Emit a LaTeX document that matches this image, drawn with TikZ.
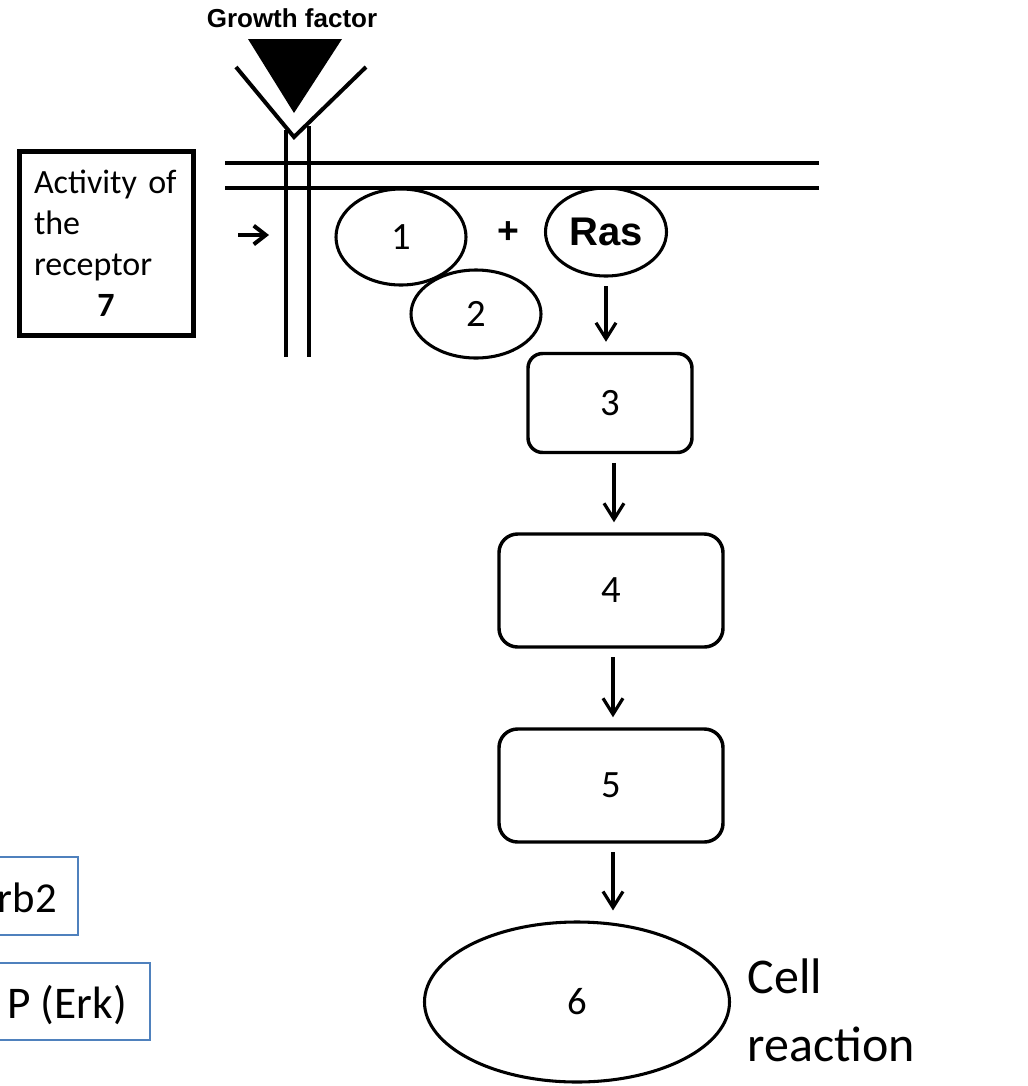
\documentclass[tikz,border=0pt]{standalone}
\usepackage{fontspec}
\setmainfont{Carlito}
\newfontfamily\headfont{Liberation Sans}
\usetikzlibrary{arrows.meta,shapes.geometric}

\begin{document}
\begin{tikzpicture}[x=0.75pt,y=-0.75pt,
  membrane/.style={line width=3pt},
  oval/.style={ellipse,draw,line width=2.3pt,inner sep=0pt,font=\fontsize{29}{34}\selectfont},
  stepbox/.style={rectangle,rounded corners=12pt,draw,line width=2.6pt,inner sep=0pt,font=\fontsize{29}{34}\selectfont},
  flow/.style={line width=2.4pt,-{Straight Barb[length=12pt,width=15pt]},shorten <=6.5pt,shorten >=7.5pt},
  keybox/.style={rectangle,draw=keyblue,line width=1.4pt,inner sep=0pt},
  keytext/.style={anchor=base east,inner sep=0pt,font=\fontsize{34}{40}\selectfont}]
\definecolor{keyblue}{HTML}{4F81BD}
\useasboundingbox (0,0) rectangle (1028,1086);
\clip (0,0) rectangle (1028,1086);

% ligand and receptor
\node[font=\headfont\bfseries\fontsize{19.5}{23}\selectfont] (gf) at (292,18) {Growth factor};
\fill (248,39) -- (342,39) -- (294,113) -- cycle;
\draw[membrane,line join=miter] (236,67) -- (294,137) -- (366,67);
\draw[membrane] (286,130) -- (286,357);
\draw[membrane] (309,126) -- (309,357);

% plasma membrane
\draw[membrane] (225,163) -- (819,163);
\draw[membrane] (225,188) -- (819,188);

% receptor activity label
\node[rectangle,draw,line width=3.75pt,minimum width=130.5pt,minimum height=138pt,
      text width=108pt,inner sep=0pt,align=left,font=\fontsize{25.5}{30.75}\selectfont]
      (act) at (106,243) {Activity of\\the\\receptor\\\makebox[108pt][c]{\textbf{7}}};
\coordinate (pa) at (238,235);
\coordinate (pb) at (269,235);
\draw[line width=3pt,-{Straight Barb[length=9pt,width=14pt]}] (pa) -- (pb);

% adaptor proteins and Ras
\node[oval,minimum width=97.5pt,minimum height=72pt] (n1) at (401,237) {1};
\node[oval,minimum width=97.5pt,minimum height=66pt] (n2) at (476,314) {2};
\node[font=\headfont\bfseries\fontsize{28}{32}\selectfont] (plus) at (508,233) {+};
\node[oval,minimum width=90.75pt,minimum height=66pt,font=\headfont\bfseries\fontsize{30}{36}\selectfont] (ras) at (606,232) {Ras};

% kinase cascade
\node[stepbox,rounded corners=11pt,minimum width=123pt,minimum height=74.25pt] (n3) at (610,403) {3};
\node[stepbox,rounded corners=14pt,minimum width=168pt,minimum height=84.75pt] (n4) at (611,590.5) {4};
\node[stepbox,rounded corners=14pt,minimum width=168pt,minimum height=84.75pt] (n5) at (611,785.5) {5};
\node[oval,minimum width=228.75pt,minimum height=120pt] (n6) at (577,1002) {6};
\node[align=left,anchor=west,font=\fontsize{37.5}{51}\selectfont] (cr) at (743,1010) {Cell\\reaction};

\draw[flow] (ras.south) -- (ras.south |- n3.north);
\draw[flow] ([xshift=3pt]n3.south) -- ([xshift=3pt]n3.south |- n4.north);
\draw[flow] ([xshift=1.5pt]n5.south |- n4.south) -- ([xshift=1.5pt]n5.north);
\draw[flow] ([xshift=1.5pt]n5.south) -- ([xshift=1.5pt]n5.south |- n6.north);

% key boxes at the left edge
\node[keybox,minimum width=66pt,minimum height=58.5pt] (k1) at (34,896) {};
\node[keytext,font=\fontsize{32}{38}\selectfont] (k1t) at (57,912) {rb2};
\node[keybox,minimum width=120pt,minimum height=57.75pt] (k2) at (70,1001.5) {};
\node[keytext] (k2t) at (127,1018) {P (Erk)};
\end{tikzpicture}
\end{document}
